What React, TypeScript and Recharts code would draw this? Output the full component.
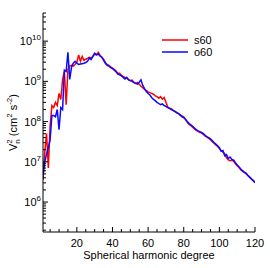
import React from 'react';
import { LineChart, Line, XAxis, YAxis, Legend } from 'recharts';

// spherical harmonic degree n = 1..120
const degrees = Array.from({ length: 120 }, (_, i) => i + 1);

// log10 of V_n^2 (cm^2 s^-2)
const s60Exp = [
  6.55, 7.25, 7.7, 6.85, 7.9, 8.4, 8.35, 8.48, 8.4, 8.7,
  8.55, 9.05, 9.25, 8.42, 9.3, 9.38, 9.4, 9.38, 9.42, 9.47,
  9.66, 9.5, 9.62, 9.52, 9.55, 9.57, 9.6, 9.58, 9.62, 9.68,
  9.66, 9.72, 9.65, 9.6, 9.55, 9.47, 9.42, 9.4, 9.36, 9.33,
  9.3, 9.26, 9.2, 9.2, 9.15, 9.12, 9.1, 9.08, 9.04, 9.02,
  9.03, 8.98, 8.95, 8.97, 8.93, 8.88, 8.84, 8.8, 8.77, 8.74,
  8.72, 8.7, 8.68, 8.64, 8.62, 8.58, 8.62, 8.56, 8.6, 8.48,
  8.36, 8.33, 8.32, 8.28, 8.26, 8.22, 8.2, 8.17, 8.14, 8.12,
  8.05, 7.98, 7.93, 7.9, 7.86, 7.82, 7.78, 7.76, 7.73, 7.72,
  7.68, 7.64, 7.62, 7.58, 7.55, 7.5, 7.46, 7.42, 7.38, 7.33,
  7.28, 7.24, 7.2, 7.1, 7.05, 7.03, 7.04, 7.02, 6.95, 6.9,
  6.86, 6.8, 6.76, 6.74, 6.7, 6.66, 6.62, 6.58, 6.54, 6.5,
];

const o60Exp = [
  6.67, 7.0, 7.2, 7.35, 7.55, 8.15, 8.15, 8.12, 8.3, 7.8,
  8.35, 8.3, 9.28, 9.25, 9.72, 9.05, 9.35, 9.45, 9.5, 9.45,
  9.42, 9.43, 9.44, 9.45, 9.47, 9.5, 9.58, 9.54, 9.62, 9.7,
  9.66, 9.68, 9.63, 9.6, 9.52, 9.45, 9.4, 9.38, 9.34, 9.32,
  9.28, 9.24, 9.18, 9.16, 9.14, 9.1, 9.06, 9.1, 9.04, 9.02,
  9.0, 8.97, 8.95, 8.93, 8.98, 9.04, 8.9, 8.82, 8.75, 8.7,
  8.66, 8.6, 8.55, 8.52, 8.48, 8.45, 8.42, 8.44, 8.4, 8.38,
  8.35, 8.33, 8.3, 8.28, 8.25, 8.23, 8.2, 8.16, 8.12, 8.1,
  8.06, 8.0, 7.95, 7.92, 7.88, 7.84, 7.8, 7.77, 7.75, 7.73,
  7.7, 7.66, 7.62, 7.6, 7.57, 7.53, 7.48, 7.44, 7.4, 7.35,
  7.26, 7.28, 7.15, 7.18, 7.08, 7.12, 7.06, 7.04, 6.98, 6.92,
  6.88, 6.82, 6.78, 6.74, 6.72, 6.66, 6.62, 6.57, 6.53, 6.48,
];

const xTicks = [5, 10, 15, 20, 25, 30, 35, 40, 45, 50, 55, 60, 65, 70, 75, 80, 85, 90, 95, 100, 105, 110, 115, 120];
const xLabelled = [20, 40, 60, 80, 100, 120];
const yDecades = [5, 6, 7, 8, 9, 10];
const yLabelled = [6, 7, 8, 9, 10];
const yDomain: [number, number] = [1.8e5, 5.01e10];

const series = [
  { key: 's60', color: '#ff0000' },
  { key: 'o60', color: '#0a0aff' },
];

const data = degrees.map((n, i) => ({ n, s60: 10 ** s60Exp[i], o60: 10 ** o60Exp[i] }));

const yTicks: number[] = [];
yDecades.forEach((d) => {
  for (let m = 1; m < 10; m++) {
    const v = m * 10 ** d;
    if (v >= yDomain[0] && v <= yDomain[1]) yTicks.push(v);
  }
});

const FONT = 'Liberation Sans, Arial, Helvetica, sans-serif';

const isDecade = (v: number) => yLabelled.some((d) => Math.abs(v - 10 ** d) < 1e-6 * v) || Math.abs(v - 1e5) < 1;

const BottomTick = (props: any) => {
  const { x, y, payload } = props;
  const major = xLabelled.includes(payload.value);
  return (
    <g>
      <line x1={x} x2={x} y1={y} y2={y - (major ? 5 : 3)} stroke="#000" />
      {major && (
        <text x={x} y={y + 15} textAnchor="middle" fontSize={11} fontFamily={FONT} fill="#000">
          {payload.value}
        </text>
      )}
    </g>
  );
};

const TopTick = (props: any) => {
  const { x, y, payload } = props;
  const major = xLabelled.includes(payload.value);
  return <line x1={x} x2={x} y1={y} y2={y + (major ? 5 : 3)} stroke="#000" />;
};

const LeftTick = (props: any) => {
  const { x, y, payload } = props;
  const v = payload.value as number;
  const major = isDecade(v);
  const exp = Math.round(Math.log10(v));
  return (
    <g>
      <line x1={x} x2={x + (major ? 5 : 3)} y1={y} y2={y} stroke="#000" />
      {major && yLabelled.includes(exp) && (
        <text x={x - 2} y={y + 4} textAnchor="end" fontSize={11} fontFamily={FONT} fill="#000">
          10
          <tspan dy={-5} fontSize={8}>
            {exp}
          </tspan>
        </text>
      )}
    </g>
  );
};

const RightTick = (props: any) => {
  const { x, y, payload } = props;
  const major = isDecade(payload.value);
  return <line x1={x} x2={x - (major ? 5 : 3)} y1={y} y2={y} stroke="#000" />;
};

const YLabel = (props: any) => {
  const { viewBox } = props;
  const cx = viewBox.x + 17;
  const cy = viewBox.y + viewBox.height / 2;
  return (
    <text
      x={cx}
      y={cy}
      transform={`rotate(-90 ${cx} ${cy})`}
      textAnchor="middle"
      fontSize={11}
      fontFamily={FONT}
      fill="#000"
    >
      V
      <tspan dy={-5} fontSize={8}>2</tspan>
      <tspan dx={-4.5} dy={8} fontSize={8}>n</tspan>
      <tspan dy={-3}> (cm</tspan>
      <tspan dy={-5} fontSize={8}>2</tspan>
      <tspan dy={5}> s</tspan>
      <tspan dy={-5} fontSize={8}>-2</tspan>
      <tspan dy={5}>)</tspan>
    </text>
  );
};

const LegendBox = () => (
  <svg width={60} height={26} style={{ display: 'block' }}>
    {series.map((s, i) => (
      <g key={s.key}>
        <line x1={0} x2={26} y1={6 + i * 12} y2={6 + i * 12} stroke={s.color} strokeWidth={1.5} />
        <text x={32} y={10 + i * 12} fontSize={11} fontFamily={FONT} fill="#000">
          {s.key}
        </text>
      </g>
    ))}
  </svg>
);

export default function App() {
  return (
    <div style={{ position: 'absolute', left: 0, top: 0, background: '#fff' }}>
      <LineChart width={270} height={268} data={data} margin={{ top: 13, right: 15, left: 0, bottom: 0 }}>
        <XAxis
          xAxisId="bottom"
          dataKey="n"
          type="number"
          domain={[1, 120]}
          allowDataOverflow
          ticks={xTicks}
          interval={0}
          height={36}
          tickSize={0}
          tickMargin={0}
          tickLine={false}
          axisLine={{ stroke: '#000' }}
          tick={<BottomTick />}
          label={{ value: 'Spherical harmonic degree', position: 'insideBottom', offset: 9, fontSize: 11, fontFamily: FONT, fill: '#000' }}
        />
        <XAxis
          xAxisId="top"
          orientation="top"
          dataKey="n"
          type="number"
          domain={[1, 120]}
          allowDataOverflow
          ticks={xTicks}
          interval={0}
          height={0}
          tickSize={0}
          tickMargin={0}
          tickLine={false}
          axisLine={{ stroke: '#000' }}
          tick={<TopTick />}
        />
        <YAxis
          yAxisId="left"
          type="number"
          scale="log"
          domain={yDomain}
          allowDataOverflow
          ticks={yTicks}
          interval={0}
          width={43}
          tickSize={0}
          tickMargin={0}
          tickLine={false}
          axisLine={{ stroke: '#000' }}
          tick={<LeftTick />}
          label={<YLabel />}
        />
        <YAxis
          yAxisId="right"
          orientation="right"
          type="number"
          scale="log"
          domain={yDomain}
          allowDataOverflow
          ticks={yTicks}
          interval={0}
          width={0}
          tickSize={0}
          tickMargin={0}
          tickLine={false}
          axisLine={{ stroke: '#000' }}
          tick={<RightTick />}
        />
        <Legend
          layout="vertical"
          align="center"
          verticalAlign="middle"
          content={<LegendBox />}
          wrapperStyle={{ position: 'absolute', left: 162, top: 34, width: 60 }}
        />
        {series.map((s) => (
          <Line
            key={s.key}
            xAxisId="bottom"
            yAxisId="left"
            dataKey={s.key}
            type="linear"
            stroke={s.color}
            strokeWidth={1.5}
            dot={false}
            isAnimationActive={false}
          />
        ))}
      </LineChart>
    </div>
  );
}
